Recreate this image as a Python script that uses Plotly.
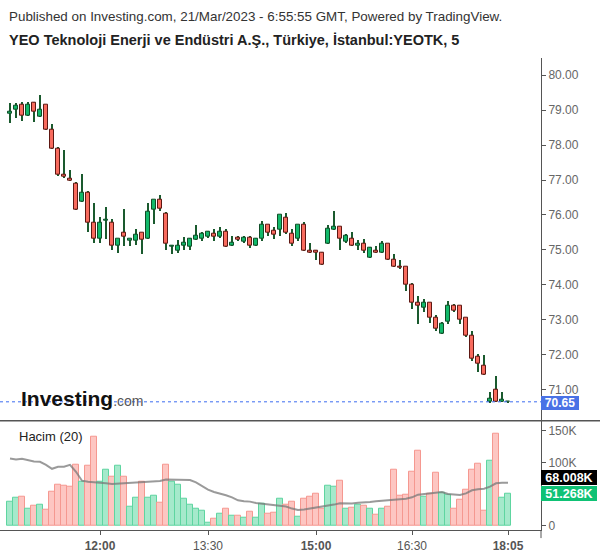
import plotly.graph_objects as go

W, H = 600, 558

# ---------------- data (5-minute candles, index based) ----------------
opens = [78.89, 79.01, 79.15, 78.84, 79.21, 78.81, 79.15, 78.44, 77.90, 77.16,
         77.04, 76.90, 76.39, 76.64, 75.79, 75.33, 75.84, 75.79, 75.13, 75.50,
         75.25, 75.25, 75.50, 75.33, 76.16, 76.44, 76.04, 75.10, 74.99, 75.12,
         75.10, 75.29, 75.31, 75.38, 75.46, 75.38, 75.51, 75.12, 75.34, 75.23,
         75.34, 75.12, 75.31, 75.71, 75.54, 75.57, 75.91, 75.46, 75.31, 75.71,
         74.98, 74.97, 74.91, 75.17, 75.59, 75.66, 75.23, 75.33, 75.13, 75.19,
         74.79, 74.99, 74.93, 75.19, 74.73, 74.53, 74.51, 73.99, 73.48, 73.34,
         73.48, 73.05, 72.60, 72.94, 73.40, 73.40, 73.05, 72.54, 71.94, 71.69,
         70.65, 71.00, 70.65, 70.645]
highs = [79.23, 79.21, 79.25, 79.24, 79.24, 79.44, 79.15, 78.62, 77.95, 77.86,
         77.31, 76.96, 77.19, 76.71, 76.36, 75.96, 76.25, 75.90, 75.33, 76.17,
         75.33, 75.60, 75.50, 76.36, 76.44, 76.57, 76.10, 75.14, 75.30, 75.39,
         75.34, 75.71, 75.51, 75.54, 75.60, 75.66, 75.60, 75.40, 75.40, 75.40,
         75.40, 75.36, 75.85, 75.71, 75.66, 76.00, 76.06, 75.60, 75.71, 75.80,
         75.20, 75.00, 74.94, 75.71, 76.11, 75.66, 75.46, 75.51, 75.30, 75.33,
         75.10, 75.13, 75.25, 75.19, 74.90, 74.71, 74.51, 74.05, 73.68, 73.59,
         73.48, 73.14, 72.94, 73.54, 73.45, 73.40, 73.05, 72.68, 72.03, 72.00,
         70.95, 71.40, 70.95, 70.65]
lows = [78.64, 78.78, 78.71, 78.83, 78.67, 78.81, 78.44, 77.90, 77.12, 77.07,
        76.98, 76.16, 76.39, 75.53, 75.22, 75.22, 75.33, 75.01, 74.93, 75.13,
        75.13, 75.16, 74.88, 75.33, 75.76, 76.13, 75.02, 74.88, 74.93, 75.00,
        75.01, 75.29, 75.26, 75.35, 75.26, 75.35, 75.10, 75.12, 75.26, 75.20,
        75.06, 75.12, 75.26, 75.40, 75.31, 75.40, 75.46, 75.12, 75.26, 74.98,
        74.92, 74.72, 74.58, 75.17, 75.57, 75.01, 75.20, 75.13, 75.02, 74.93,
        74.79, 74.93, 74.93, 74.73, 74.53, 74.47, 73.82, 73.31, 72.88, 73.22,
        72.91, 72.68, 72.60, 72.88, 73.22, 72.88, 72.51, 71.83, 71.52, 71.43,
        70.63, 70.65, 70.65, 70.645]
closes = [78.95, 79.14, 78.84, 79.15, 78.95, 79.01, 78.44, 77.90, 77.16, 77.10,
          76.98, 76.16, 76.64, 75.79, 75.33, 75.79, 75.85, 75.13, 75.33, 75.39,
          75.33, 75.45, 75.30, 76.10, 76.44, 76.19, 75.19, 75.11, 75.13, 75.20,
          75.31, 75.40, 75.46, 75.51, 75.38, 75.51, 75.10, 75.20, 75.29, 75.34,
          75.12, 75.31, 75.71, 75.48, 75.43, 76.00, 75.48, 75.17, 75.71, 74.98,
          74.92, 74.91, 74.58, 75.60, 75.66, 75.31, 75.40, 75.13, 75.19, 74.99,
          75.05, 74.93, 75.19, 74.73, 74.53, 74.50, 73.99, 73.48, 73.40, 73.48,
          73.05, 72.74, 72.88, 73.40, 73.25, 73.00, 72.54, 71.89, 71.74, 71.43,
          70.75, 70.65, 70.70, 70.65]
volumes_k = [38.8, 44.6, 46.2, 27.3, 32.0, 33.6, 25.7, 54.0, 65.0, 63.5,
             61.9, 97.0, 69.8, 94.9, 141.0, 70.3, 88.6, 77.6, 94.9, 77.6,
             30.5, 44.6, 69.8, 44.6, 47.7, 36.7, 97.0, 70.3, 65.0, 43.6,
             33.6, 26.3, 24.7, 5.3, 10.5, 19.4, 26.3, 16.3, 16.3, 12.1,
             23.1, 12.1, 35.2, 19.4, 21.0, 43.6, 33.6, 38.8, 13.7, 43.6,
             46.2, 50.9, 26.3, 63.5, 61.9, 71.9, 26.3, 29.4, 33.6, 32.0,
             27.8, 17.9, 27.8, 30.5, 88.6, 47.7, 49.3, 86.0, 119.0, 46.2,
             50.9, 84.4, 52.5, 49.3, 27.8, 42.0, 57.7, 88.6, 98.6, 24.7,
             102.8, 145.8, 44.6, 51.268]
volume_ma_k = [106.4, 104.9, 105.9, 103.3, 101.7, 101.2, 96.5, 90.2, 93.4, 93.4,
               96.5, 85.5, 71.4, 69.8, 69.3, 68.2, 67.2, 66.1, 66.6, 67.2,
               67.2, 67.7, 68.2, 68.7, 69.3, 70.8, 73.4, 73.4, 73.5, 72.9,
               72.4, 68.7, 63.5, 57.2, 53.5, 51.4, 48.3, 45.1, 40.4, 38.8,
               38.3, 36.2, 35.2, 34.1, 32.5, 31.5, 30.5, 27.3, 25.2, 25.7,
               27.3, 28.3, 29.4, 31.5, 33.6, 35.7, 35.7, 35.5, 36.7, 37.8,
               37.8, 38.8, 39.4, 39.9, 41.5, 42.0, 43.0, 45.1, 49.3, 50.4,
               51.4, 52.5, 53.5, 50.4, 49.8, 48.8, 51.4, 56.2, 57.7, 58.8,
               61.9, 67.2, 68.2, 68.008]
tick_index = [15, 33, 51, 67, 83]
tick_labels = ["12:00", "13:30", "15:00", "16:30", "18:05"]
bold_ticks = ["12:00", "15:00", "18:05"]
price_ticks = [71, 72, 73, 74, 75, 76, 77, 78, 79, 80]
volume_ticks_k = [0, 50, 100, 150]
volume_tick_labels = ["0", "", "100K", "150K"]   # 50K hidden behind the value tags
last_price = 70.65
last_volume_k = 51.268
last_ma_k = 68.008

# ---------------- helpers ----------------
def py(px):
    return 1 - px / H

def px_x(px):
    return px / W

FONT = "Liberation Sans, Arial, sans-serif"
n = len(opens)
xs = list(range(n))
up = [c >= o for o, c in zip(opens, closes)]

UP_FILL, UP_EDGE = "#12b96a", "#104d27"
DN_FILL, DN_EDGE = "#f86b5e", "#5e1712"
WICK = "#1a5a2e"
VUP_FILL, VUP_EDGE = "#a5e9cb", "#5ed5a0"
VDN_FILL, VDN_EDGE = "#fdc6c2", "#f59890"

fig = go.Figure()

# wicks
fig.add_trace(go.Bar(
    x=xs, base=lows, y=[h - l for h, l in zip(highs, lows)],
    width=0.18, marker=dict(color=WICK, line=dict(width=0)),
    yaxis="y", xaxis="x", hoverinfo="skip", showlegend=False))

# bodies
fig.add_trace(go.Bar(
    x=xs, base=[min(o, c) for o, c in zip(opens, closes)],
    y=[max(abs(c - o), 0.012) for o, c in zip(opens, closes)],
    width=0.72,
    marker=dict(color=[UP_FILL if u else DN_FILL for u in up],
                line=dict(color=[UP_EDGE if u else DN_EDGE for u in up], width=1)),
    yaxis="y", xaxis="x", showlegend=False))

# volume
fig.add_trace(go.Bar(
    x=xs, y=volumes_k, width=0.86,
    marker=dict(color=[VUP_FILL if u else VDN_FILL for u in up],
                line=dict(color=[VUP_EDGE if u else VDN_EDGE for u in up], width=1)),
    yaxis="y2", xaxis="x", showlegend=False))

fig.add_trace(go.Scatter(
    x=xs, y=volume_ma_k, mode="lines",
    line=dict(color="rgba(120,120,120,0.75)", width=2),
    yaxis="y2", xaxis="x", showlegend=False))

# price scale: 80 -> 75.7px, 71 -> 391.7px
ppu = (391.7 - 75.7) / 9.0
p_top = 80 + (75.7 - 58) / ppu
p_bot = 80 - (423 - 75.7) / ppu
# volume scale: 0 -> 528.7px, 150K -> 433.3px
vpk = (528.7 - 433.3) / 150.0
v_top = (528.7 - 423) / vpk
v_bot = (528.7 - 533) / vpk

x_dom_r = 541 / W
x_left = -10 / 6.0
x_right = x_left + 541 / 6.0

fig.update_layout(
    width=W, height=H,
    margin=dict(l=0, r=0, t=0, b=0),
    paper_bgcolor="white", plot_bgcolor="white",
    barmode="overlay", bargap=0,
    font=dict(family=FONT, size=12, color="#555"),
    xaxis=dict(domain=[0, x_dom_r], range=[x_left, x_right], anchor="y2",
               showgrid=False, zeroline=False, showline=True,
               linecolor="#555", linewidth=1,
               tickmode="array", tickvals=tick_index,
               ticktext=["<b>%s</b>" % t if t in bold_ticks else t for t in tick_labels],
               ticks="outside", ticklen=4, tickcolor="#555",
               tickfont=dict(size=12, color="#555", family=FONT)),
    yaxis=dict(domain=[py(423), py(58)], range=[p_bot, p_top], side="right",
               anchor="x", showgrid=False, zeroline=False, showline=True,
               linecolor="#555", linewidth=1,
               tickmode="array", tickvals=price_ticks,
               ticktext=["%.2f" % v for v in price_ticks],
               ticks="outside", ticklen=4, tickcolor="#555",
               tickfont=dict(size=12, color="#666", family=FONT)),
    yaxis2=dict(domain=[py(533), py(423)], range=[v_bot, v_top], side="right",
                anchor="x", showgrid=False, zeroline=False, showline=True,
                linecolor="#555", linewidth=1,
                tickmode="array", tickvals=volume_ticks_k, ticktext=volume_tick_labels,
                ticks="outside", ticklen=4, tickcolor="#555",
                tickfont=dict(size=12, color="#666", family=FONT)),
)

shapes = [
    # pane separator
    dict(type="line", xref="paper", yref="paper", x0=0, x1=1, y0=py(423), y1=py(423),
         line=dict(color="#555", width=1.5)),
    # axis line extension under bottom axis
    dict(type="line", xref="paper", yref="paper", x0=x_dom_r, x1=x_dom_r,
         y0=py(541), y1=py(533), line=dict(color="#555", width=1)),
    # last price dashed line
    dict(type="line", xref="paper", yref="y", x0=0, x1=x_dom_r, y0=last_price, y1=last_price,
         line=dict(color="#3d6cf0", width=1, dash="dot")),
]
fig.update_layout(shapes=shapes)

ann = []
ann.append(dict(text="Published on Investing.com, 21/Mar/2023 - 6:55:55 GMT, Powered by TradingView.",
                xref="paper", yref="paper", x=px_x(7), y=py(17), xanchor="left", yanchor="middle",
                showarrow=False, font=dict(family=FONT, size=13.4, color="#333")))
ann.append(dict(text="<b>YEO Teknoloji Enerji ve Endüstri A.Ş., Türkiye, İstanbul:YEOTK, 5</b>",
                xref="paper", yref="paper", x=px_x(7), y=py(40), xanchor="left", yanchor="middle",
                showarrow=False, font=dict(family=FONT, size=14.5, color="#222")))
ann.append(dict(text="Hacim (20)", xref="paper", yref="paper", x=px_x(17), y=py(439),
                xanchor="left", yanchor="middle", showarrow=False,
                font=dict(family=FONT, size=13, color="#222")))
ann.append(dict(text="<b>Investing</b><span style='font-size:14px;color:#555'>.com</span>",
                xref="paper", yref="paper", x=px_x(19), y=py(401), xanchor="left", yanchor="middle",
                showarrow=False, font=dict(family=FONT, size=21, color="#111")))
# right-side value tags
ann.append(dict(text="<b>%.2f</b>" % last_price, xref="paper", yref="y", x=x_dom_r, y=last_price,
                xanchor="left", yanchor="middle", showarrow=False, bgcolor="#4a72e6",
                width=38, height=14, yshift=-1, align="center",
                borderpad=0, borderwidth=0, font=dict(family=FONT, size=12, color="white")))
ann.append(dict(text="<b>%.3fK</b>" % last_ma_k, xref="paper", yref="paper", x=x_dom_r, y=py(480.3),
                xanchor="left", yanchor="middle", showarrow=False, bgcolor="#000000",
                width=56, height=15, align="center",
                borderpad=0, borderwidth=0, font=dict(family=FONT, size=12.5, color="white")))
ann.append(dict(text="<b>%.3fK</b>" % last_volume_k, xref="paper", yref="paper", x=x_dom_r, y=py(496.3),
                xanchor="left", yanchor="middle", showarrow=False, bgcolor="#0fc275",
                width=56, height=15, align="center",
                borderpad=0, borderwidth=0, font=dict(family=FONT, size=12.5, color="white")))
fig.update_layout(annotations=ann)

fig.write_html("out.html")
